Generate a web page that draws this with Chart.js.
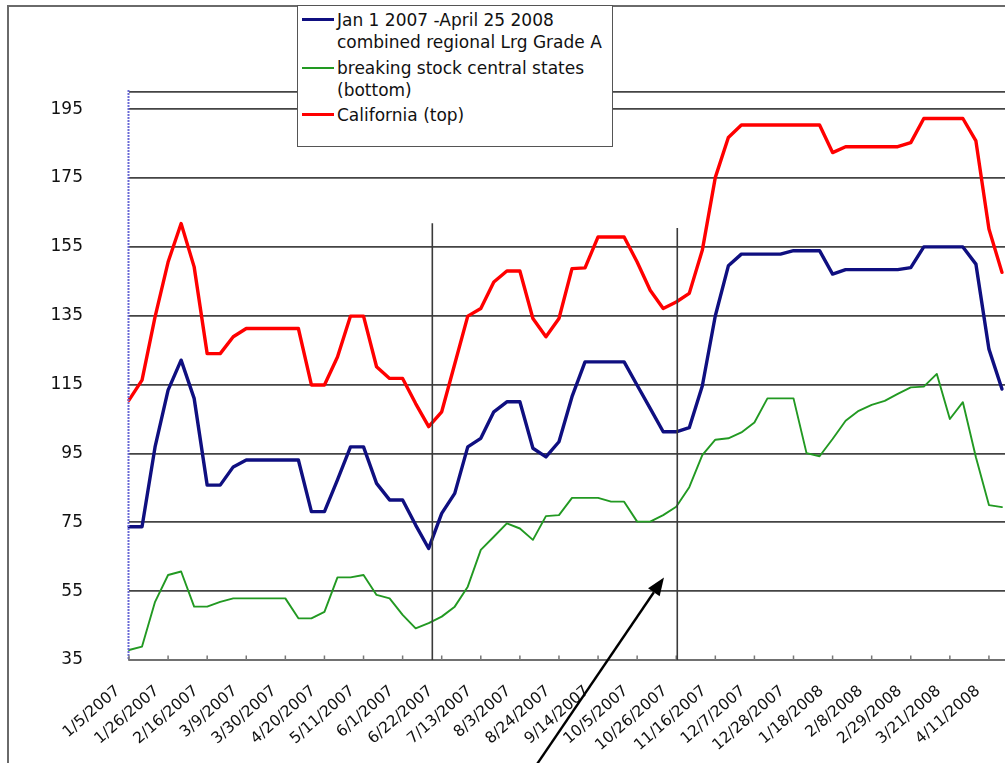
<!DOCTYPE html>
<html>
<head>
<meta charset="utf-8">
<title>Egg prices Jan 2007 - Apr 2008</title>
<script src="https://cdn.jsdelivr.net/npm/chart.js@4/dist/chart.umd.min.js"></script>
<style>
  html, body { margin: 0; padding: 0; background: #fff; overflow: hidden; }
  #wrap { position: relative; width: 1005px; height: 763px; overflow: hidden; }
  #c { position: absolute; left: 0; top: 0; }
  #legend {
    position: absolute; left: 297px; top: 5px; width: 316px; height: 142px;
    box-sizing: border-box; border: 1.5px solid #555; background: #fff;
    font-family: "DejaVu Sans", sans-serif; font-size: 17px; color: #111;
  }
  .item { position: absolute; left: 39px; line-height: 22px; white-space: nowrap; }
  .swatch { position: absolute; left: -35px; top: 9.5px; width: 32px; height: 3px; }
</style>
</head>
<body>
<div id="wrap">
  <canvas id="c" width="1040" height="763" style="width:1040px;height:763px"></canvas>
  <div id="legend">
    <div class="item" style="top:2.5px"><span class="swatch" style="background:#0f0f80"></span>Jan 1 2007 -April 25 2008<br>combined regional Lrg Grade A</div>
    <div class="item" style="top:50.5px"><span class="swatch" style="background:#229922;height:2px;top:10px"></span>breaking stock central states<br>(bottom)</div>
    <div class="item" style="top:97.5px"><span class="swatch" style="background:#ff0000"></span>California (top)</div>
  </div>
</div>
<script>
// Weekly price dates
const weeks = [
  '1/5/2007','1/12/2007','1/19/2007','1/26/2007','2/2/2007','2/9/2007','2/16/2007','2/23/2007',
  '3/2/2007','3/9/2007','3/16/2007','3/23/2007','3/30/2007','4/6/2007','4/13/2007','4/20/2007',
  '4/27/2007','5/4/2007','5/11/2007','5/18/2007','5/25/2007','6/1/2007','6/8/2007','6/15/2007',
  '6/22/2007','6/29/2007','7/6/2007','7/13/2007','7/20/2007','7/27/2007','8/3/2007','8/10/2007',
  '8/17/2007','8/24/2007','8/31/2007','9/7/2007','9/14/2007','9/21/2007','9/28/2007','10/5/2007',
  '10/12/2007','10/19/2007','10/26/2007','11/2/2007','11/9/2007','11/16/2007','11/23/2007','11/30/2007',
  '12/7/2007','12/14/2007','12/21/2007','12/28/2007','1/4/2008','1/11/2008','1/18/2008','1/25/2008',
  '2/1/2008','2/8/2008','2/15/2008','2/22/2008','2/29/2008','3/7/2008','3/14/2008','3/21/2008',
  '3/28/2008','4/4/2008','4/11/2008','4/18/2008','4/25/2008'
];

// Dates printed under the axis (every third week)
const tickLabels = [
  '1/5/2007','1/26/2007','2/16/2007','3/9/2007','3/30/2007','4/20/2007','5/11/2007','6/1/2007',
  '6/22/2007','7/13/2007','8/3/2007','8/24/2007','9/14/2007','10/5/2007','10/26/2007','11/16/2007',
  '12/7/2007','12/28/2007','1/18/2008','2/8/2008','2/29/2008','3/21/2008','4/11/2008'
];

// Combined regional large Grade A (cents/dozen)
const combinedGradeA = [
  73.7, 73.7, 96.9, 113.4, 122.1, 111, 85.8, 85.8, 91.1, 93.1, 93.1, 93.1, 93.1, 93.1,
  78.1, 78.1, 87.3, 96.9, 96.9, 86.3, 81.5, 81.5, 74.2, 67.4, 77.6, 83.4, 96.9, 99.4,
  107.1, 110, 110, 96.5, 94, 98.4, 111.5, 121.6, 121.6, 121.6, 121.6, 114.8, 108.1, 101.3,
  101.3, 102.5, 114.6, 135, 149.5, 152.9, 152.9, 152.9, 152.9, 153.9, 153.9, 153.9, 147.1,
  148.4, 148.4, 148.4, 148.4, 148.4, 149, 155, 155, 155, 155, 150, 125.3, 113.7, null
];

// Breaking stock, central states
const breakingStockCentral = [
  37.9, 38.9, 51.9, 59.7, 60.7, 50.5, 50.5, 51.9, 52.9, 52.9, 52.9, 52.9, 52.9, 47.1,
  47.1, 49, 59, 59, 59.7, 53.9, 52.9, 48.1, 44.2, 45.7, 47.6, 50.5, 56.3, 67,
  70.8, 74.7, 73.2, 69.9, 76.8, 77.1, 82.1, 82.1, 82.1, 81, 81, 75.2, 75.2, 77.1,
  79.5, 85.2, 94.5, 99, 99.4, 101.1, 104, 111, 111, 111, 95.1, 94.2, 99.2,
  104.5, 107.4, 109.1, 110.3, 112.3, 114.2, 114.4, 118.1, 105, 109.9, 93.9, 80, 79.4, null
];

// California
const californiaTop = [
  110.5, 116.3, 134.7, 150.6, 161.8, 149.2, 124, 124, 128.9, 131.3, 131.3, 131.3, 131.3, 131.3,
  114.9, 114.9, 123, 134.9, 134.9, 120.2, 116.8, 116.8, 109.5, 102.8, 107.1, 121, 134.9, 137.1,
  144.8, 148, 148, 134.2, 128.9, 134.2, 148.7, 148.9, 157.9, 157.9, 157.9, 150.6, 142.4, 137.1,
  139, 141.5, 154, 175.2, 186.8, 190.4, 190.4, 190.4, 190.4, 190.4, 190.4, 190.4, 182.4,
  184.1, 184.1, 184.1, 184.1, 184.1, 185.3, 192.3, 192.3, 192.3, 192.3, 185.8, 160.2, 147.6, null
];

const yTickValues = [35, 55, 75, 95, 115, 135, 155, 175, 195];
const yMin = 35;
const yMax = 200;

// Hand-drawn markers, in chart units (week index, price)
const markerLines = [ { week: 23.28, top: 161.9 }, { week: 42.08, top: 160.5 } ];
const arrow = { from: { week: 31.0, price: 3 }, to: { week: 41.06, price: 59.0 } };

const tickLabelSet = new Set(tickLabels);
const FONT = '"DejaVu Sans", sans-serif';

const decorations = {
  id: 'decorations',
  beforeDraw(chart) {
    const ctx = chart.ctx;
    ctx.save();
    ctx.fillStyle = '#fff';
    ctx.fillRect(0, 0, chart.width, chart.height);
    // outer frame of the chart
    ctx.strokeStyle = '#6a6a6a';
    ctx.lineWidth = 2;
    ctx.beginPath();
    ctx.moveTo(8, chart.height + 2);
    ctx.lineTo(8, 6);
    ctx.lineTo(chart.width + 2, 6);
    ctx.stroke();
    ctx.restore();
  },
  afterDatasetsDraw(chart) {
    const { ctx, scales: { x, y } } = chart;
    ctx.save();
    // dotted value axis
    ctx.strokeStyle = '#6a6ad6';
    ctx.lineWidth = 2;
    ctx.setLineDash([2, 1]);
    ctx.beginPath();
    ctx.moveTo(x.left - 0.5, y.top - 2);
    ctx.lineTo(x.left - 0.5, y.bottom);
    ctx.stroke();
    ctx.setLineDash([]);
    // inside tick marks every third week
    ctx.strokeStyle = '#777';
    ctx.lineWidth = 1.5;
    weeks.forEach((w, i) => {
      if (!tickLabelSet.has(w)) return;
      const px = x.getPixelForValue(i);
      ctx.beginPath();
      ctx.moveTo(px, y.bottom - 4.5);
      ctx.lineTo(px, y.bottom);
      ctx.stroke();
    });
    // vertical marker lines
    ctx.strokeStyle = '#3a3a3a';
    ctx.lineWidth = 1.6;
    markerLines.forEach(m => {
      const px = x.getPixelForValue(m.week);
      ctx.beginPath();
      ctx.moveTo(px, y.getPixelForValue(m.top));
      ctx.lineTo(px, y.bottom);
      ctx.stroke();
    });
    // arrow
    const x0 = x.getPixelForValue(arrow.from.week), y0 = y.getPixelForValue(arrow.from.price);
    const x1 = x.getPixelForValue(arrow.to.week), y1 = y.getPixelForValue(arrow.to.price);
    const ang = Math.atan2(y1 - y0, x1 - x0);
    const headLen = 18, headHalf = 7;
    const bx = x1 - headLen * Math.cos(ang), by = y1 - headLen * Math.sin(ang);
    ctx.strokeStyle = '#000';
    ctx.lineWidth = 2.4;
    ctx.beginPath();
    ctx.moveTo(x0, y0);
    ctx.lineTo(bx, by);
    ctx.stroke();
    ctx.fillStyle = '#000';
    ctx.beginPath();
    ctx.moveTo(x1, y1);
    ctx.lineTo(bx + headHalf * Math.sin(ang), by - headHalf * Math.cos(ang));
    ctx.lineTo(bx - headHalf * Math.sin(ang), by + headHalf * Math.cos(ang));
    ctx.closePath();
    ctx.fill();
    ctx.restore();
  }
};

new Chart(document.getElementById('c'), {
  type: 'line',
  data: {
    labels: weeks,
    datasets: [
      { label: 'Jan 1 2007 -April 25 2008 combined regional Lrg Grade A', data: combinedGradeA,
        borderColor: '#0f0f80', borderWidth: 3.4 },
      { label: 'breaking stock central states (bottom)', data: breakingStockCentral,
        borderColor: '#229922', borderWidth: 1.9 },
      { label: 'California (top)', data: californiaTop,
        borderColor: '#ff0000', borderWidth: 3.4 }
    ]
  },
  options: {
    responsive: false,
    animation: false,
    devicePixelRatio: 1,
    layout: { padding: { top: 92, right: 25, bottom: 0, left: 0 } },
    elements: {
      point: { radius: 0, hoverRadius: 0 },
      line: { tension: 0, borderJoinStyle: 'round', borderCapStyle: 'round', fill: false }
    },
    plugins: { legend: { display: false }, tooltip: { enabled: false } },
    scales: {
      x: {
        type: 'category',
        offset: false,
        grid: { display: true, drawOnChartArea: false, drawTicks: false },
        border: { display: true, color: '#707070', width: 1.8 },
        ticks: {
          autoSkip: false, minRotation: 41, maxRotation: 41, padding: 22, labelOffset: -11,
          color: '#111', font: { family: FONT, size: 15.5 },
          callback(v) { const l = this.getLabelForValue(v); return tickLabelSet.has(l) ? l : ''; }
        },
        afterFit(s) { s.height = 103; s.paddingLeft = 0; s.paddingRight = 0; }
      },
      y: {
        min: yMin, max: yMax,
        afterBuildTicks(s) { s.ticks = yTickValues.concat([yMax]).map(v => ({ value: v })); },
        grid: { color: '#444', lineWidth: 1.7, drawTicks: false },
        border: { display: false },
        ticks: {
          padding: 46, color: '#111', font: { family: FONT, size: 17 },
          callback: v => (v === yMax ? '' : v)
        },
        afterFit(s) { s.width = 129; }
      }
    }
  },
  plugins: [decorations]
});
</script>
</body>
</html>
